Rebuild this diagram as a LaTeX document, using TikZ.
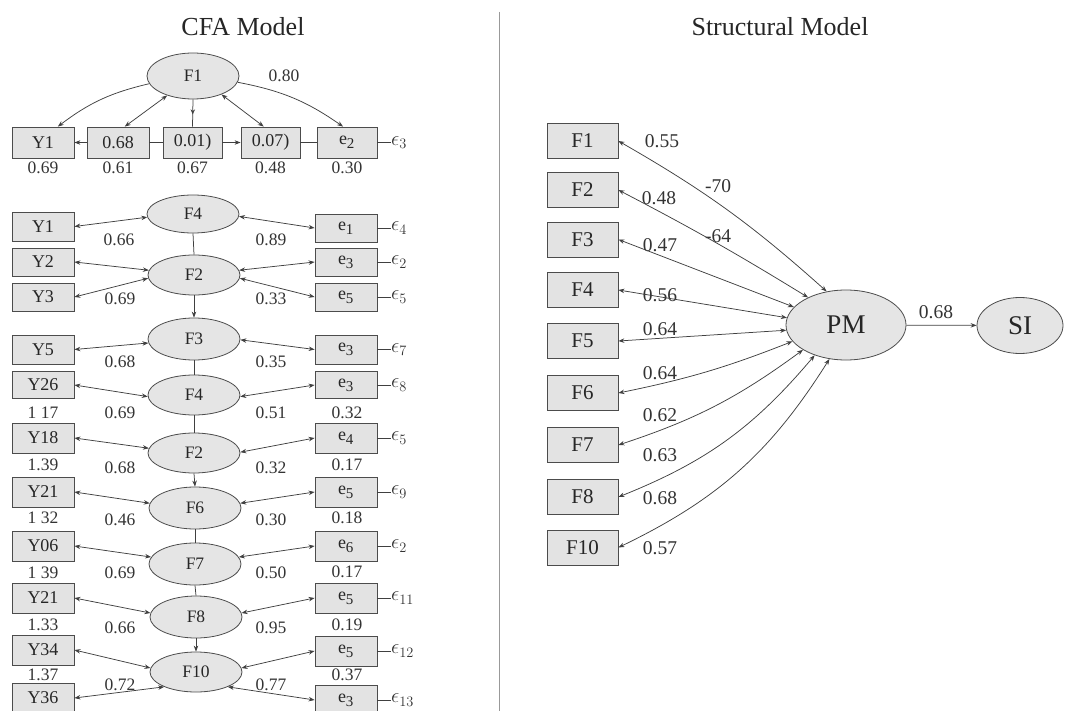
\documentclass[tikz,border=0pt]{standalone}
\usepackage{fontspec}
\setmainfont{Liberation Serif}
\usetikzlibrary{shapes.geometric,arrows.meta,decorations.markings}
\tikzset{
  obs/.style={draw=black!70, fill=black!11, line width=0.8pt, minimum width=62pt, minimum height=30pt, inner sep=0pt, text=black!85, font=\fontsize{18}{20}\selectfont},
  sobs/.style={obs, minimum width=71pt, minimum height=35pt, font=\fontsize{21}{24}\selectfont},
  lat/.style={ellipse, draw=black!70, fill=black!10, line width=0.8pt, minimum width=92pt, minimum height=40pt, inner sep=0pt, text=black!85, font=\fontsize{17.5}{20}\selectfont},
  slat/.style={lat, font=\fontsize{27}{30}\selectfont},
  lab/.style={inner sep=0pt, text=black!80, font=\fontsize{17.5}{20}\selectfont},
  slab/.style={lab, font=\fontsize{19.5}{22}\selectfont},
  ttl/.style={inner sep=0pt, text=black!85, font=\fontsize{26}{29}\selectfont},
  eps/.style={lab, anchor=west, font=\fontsize{22}{24}\selectfont},
  conn/.style={draw=black!75, line width=0.75pt},
  one/.style={conn, -{Stealth[length=6pt,width=4.5pt]}},
  dbl/.style={conn, {Stealth[length=6pt,width=4.5pt]}-{Stealth[length=6pt,width=4.5pt]}},
  midarrow/.style={conn, postaction={decorate}, decoration={markings, mark=at position 0.55 with {\arrow{Stealth[length=5pt,width=4.5pt]}}}}
}
\newcommand{\esub}[1]{e\textsubscript{\fontsize{15}{16}\selectfont #1}}
\begin{document}
\begin{tikzpicture}[x=1pt, y=-1pt]
\useasboundingbox (0,0) rectangle (1065,711);

% titles and divider
\node[ttl] (t1) at (243,27) {CFA Model};
\node[ttl] (t2) at (780,27) {Structural Model};
\draw[black!40, line width=0.7pt] (499,12) -- (499,711);

% ---------------- CFA: first block
\node[lat, minimum height=46pt] (F1) at (193,76) {F1};
\node[lab] (l080) at (284,76) {0.80};
\node[obs, minimum height=31pt] (r1a) at (43,142.5) {Y1};
\node[obs, minimum height=31pt] (r1b) at (118,142.5) {0.68};
\node[obs, minimum height=31pt, minimum width=59pt] (r1c) at (192.5,142.5) {0.01)};
\node[obs, minimum height=31pt, minimum width=59pt] (r1d) at (270.5,142.5) {0.07)};
\node[obs, minimum height=31pt, minimum width=60pt] (r1e) at (347,142.5) {\esub{2}};
\node[eps] (r1x) at (391,142.5) {$\epsilon_{3}$};
\node[lab] at (43,168) {0.69};
\node[lab] at (118,168) {0.61};
\node[lab] at (192.5,168) {0.67};
\node[lab] at (270.5,168) {0.48};
\node[lab] at (347,168) {0.30};
\draw[one] (F1.190) to[bend right=12] (r1a.47);
\draw[dbl] (F1.217) -- (r1b.67);
\draw[midarrow] (F1.south) -- (r1c.north);
\draw[dbl] (F1.327) -- (r1d.113);
\draw[one] (F1.352) to[bend left=12] (r1e.104);
\draw[one] (r1b) -- (r1a);
\draw[conn] (r1b) -- (r1c);
\draw[one] (r1c) -- (r1d);
\draw[conn] (r1d) -- (r1e);
\draw[conn] (r1e) -- (r1x);

% ---------------- CFA: second block
\node[lat, minimum height=38pt] (L1) at (193,214) {F4};
\node[obs, minimum height=29pt] (Y1b) at (43,226.5) {Y1};
\node[obs, minimum height=28pt] (E1) at (346,228) {\esub{1}};
\node[eps] (X1) at (391,228) {$\epsilon_{4}$};
\node[lab] at (119,240) {0.66};
\node[lab] at (271,240) {0.89};
\draw[dbl] (Y1b.east) -- (L1.184);
\draw[dbl] (E1.west) -- (L1.-3);
\draw[conn] (E1) -- (X1);

\node[lat] (L2) at (194,275) {F2};
\node[obs, minimum height=28pt] (Y2) at (43,262) {Y2};
\node[obs, minimum height=28pt] (Y3) at (43,297) {Y3};
\node[obs, minimum height=28pt] (E2) at (346,262) {\esub{3}};
\node[obs, minimum height=28pt] (E3) at (346,297) {\esub{5}};
\node[eps] (X2) at (391,262) {$\epsilon_{2}$};
\node[eps] (X3) at (391,297) {$\epsilon_{5}$};
\node[lab] at (120,299) {0.69};
\node[lab] at (271,299) {0.33};
\draw[conn] (L1.south) -- (L2.north);
\draw[dbl] (Y2.east) -- (L2.174);
\draw[dbl] (Y3.east) -- (L2.184);
\draw[dbl] (E2.west) -- (L2.6);
\draw[dbl] (E3.west) -- (L2.-4);
\draw[conn] (E2) -- (X2);
\draw[conn] (E3) -- (X3);

\node[lat, minimum height=42pt] (L3) at (194,339) {F3};
\node[obs, minimum height=29pt] (Y5) at (43,349.5) {Y5};
\node[obs, minimum height=29pt] (E4) at (346,349.5) {\esub{3}};
\node[eps] (X4) at (391,349.5) {$\epsilon_{7}$};
\node[lab] at (120,362) {0.68};
\node[lab] at (271,362) {0.35};
\draw[one] (L2.south) -- (L3.north);
\draw[dbl] (Y5.east) -- (L3.185);
\draw[dbl] (E4.west) -- (L3.-1);
\draw[conn] (E4) -- (X4);

\node[lat] (L4) at (194,395) {F4};
\node[obs, minimum height=27pt] (Y26) at (43,385) {Y26};
\node[obs, minimum height=27pt] (E5) at (346,385) {\esub{3}};
\node[eps] (X5) at (391,385) {$\epsilon_{8}$};
\node[lab] at (43,413) {1 17};
\node[lab] at (120,413) {0.69};
\node[lab] at (271,413) {0.51};
\node[lab] at (347,413) {0.32};
\draw[conn] (L3.south) -- (L4.north);
\draw[dbl] (Y26.east) -- (L4.182);
\draw[dbl] (E5.west) -- (L4.-2);
\draw[conn] (E5) -- (X5);

\node[lat] (L5) at (194,453) {F2};
\node[obs] (Y18) at (43,438) {Y18};
\node[obs] (E6) at (346,438) {\esub{4}};
\node[eps] (X6) at (391,438) {$\epsilon_{5}$};
\node[lab] at (43,465) {1.39};
\node[lab] at (120,468) {0.68};
\node[lab] at (271,468) {0.32};
\node[lab] at (347,465) {0.17};
\draw[conn] (L4.south) -- (L5.north);
\draw[dbl] (Y18.east) -- (L5.174);
\draw[dbl] (E6.west) -- (L5.1);
\draw[conn] (E6) -- (X6);

\node[lat, minimum height=42pt] (L6) at (195,508) {F6};
\node[obs] (Y21) at (43,492) {Y21};
\node[obs] (E7) at (346,492) {\esub{5}};
\node[eps] (X7) at (391,492) {$\epsilon_{9}$};
\node[lab] at (43,518) {1 32};
\node[lab] at (120,520) {0.46};
\node[lab] at (271,520) {0.30};
\node[lab] at (347,518) {0.18};
\draw[one] (L5.south) -- (L6.north);
\draw[dbl] (Y21.east) -- (L6.174);
\draw[dbl] (E7.west) -- (L6.6);
\draw[conn] (E7) -- (X7);

\node[lat, minimum height=42pt] (L7) at (195,564) {F7};
\node[obs] (Y06) at (43,546) {Y06};
\node[obs] (E8) at (346,546) {\esub{6}};
\node[eps] (X8) at (391,546) {$\epsilon_{2}$};
\node[lab] at (43,573) {1 39};
\node[lab] at (120,573) {0.69};
\node[lab] at (271,573) {0.50};
\node[lab] at (347,572) {0.17};
\draw[conn] (L6.south) -- (L7.north);
\draw[dbl] (Y06.east) -- (L7.171);
\draw[dbl] (E8.west) -- (L7.9);
\draw[conn] (E8) -- (X8);

\node[lat, minimum height=42pt] (L8) at (196,617) {F8};
\node[obs] (Y21b) at (43,598) {Y21};
\node[obs] (E9) at (346,598) {\esub{5}};
\node[eps] (X9) at (391,598) {$\epsilon_{11}$};
\node[lab] at (43,625) {1.33};
\node[lab] at (120,628) {0.66};
\node[lab] at (271,628) {0.95};
\node[lab] at (347,625) {0.19};
\draw[conn] (L7.south) -- (L8.north);
\draw[dbl] (Y21b.east) -- (L8.175);
\draw[dbl] (E9.west) -- (L8.5);
\draw[conn] (E9) -- (X9);

\node[lat] (L9) at (196,672) {F10};
\node[obs] (Y34) at (43,650) {Y34};
\node[obs] (E10) at (346,651) {\esub{5}};
\node[eps] (X10) at (391,651) {$\epsilon_{12}$};
\node[lab] at (43,675) {1.37};
\node[lab] at (347,675) {0.37};
\draw[one] (L8.south) -- (L9.north);
\draw[dbl] (Y34.east) -- (L9.175);
\draw[dbl] (E10.west) -- (L9.5);
\draw[conn] (E10) -- (X10);

\node[obs] (Y36) at (43,698) {Y36};
\node[obs] (E11) at (346,700) {\esub{3}};
\node[eps] (X11) at (391,700) {$\epsilon_{13}$};
\node[lab] at (120,685) {0.72};
\node[lab] at (271,685) {0.77};
\draw[dbl] (Y36.east) -- (L9.205);
\draw[dbl] (E11.west) -- (L9.-25);
\draw[conn] (E11) -- (X11);

% ---------------- Structural model
\node[slat, minimum width=120pt, minimum height=70pt] (PM) at (846,325) {PM};
\node[slat, minimum width=86pt, minimum height=56pt] (SI) at (1020,325.5) {SI};
\node[slab] at (936,312) {0.68};
\draw[one] (PM) -- (SI);

\node[sobs] (S1) at (582.5,141) {F1};
\node[sobs] (S2) at (582.5,190) {F2};
\node[sobs] (S3) at (582.5,239.5) {F3};
\node[sobs] (S4) at (582.5,290) {F4};
\node[sobs] (S5) at (582.5,341) {F5};
\node[sobs] (S6) at (582.5,393) {F6};
\node[sobs] (S7) at (582.5,445) {F7};
\node[sobs] (S8) at (582.5,497) {F8};
\node[sobs] (S10) at (582.5,547.5) {F10};

\node[slab] at (662,141) {0.55};
\node[slab] at (718,186) {-70};
\node[slab] at (659,198) {0.48};
\node[slab] at (718,236) {-64};
\node[slab] at (660,245) {0.47};
\node[slab] at (660,295) {0.56};
\node[slab] at (660,329) {0.64};
\node[slab] at (660,373) {0.64};
\node[slab] at (660,415) {0.62};
\node[slab] at (660,455) {0.63};
\node[slab] at (660,498) {0.68};
\node[slab] at (660,548) {0.57};

\draw[dbl] (S1.east) to[bend left=6] (PM.120);
\draw[dbl] (S2.east) to[bend left=2] (PM.144);
\draw[dbl] (S3.east) -- (PM.161);
\draw[dbl] (S4.east) -- (PM.173);
\draw[dbl] (S5.east) -- (PM.185);
\draw[dbl] (S6.east) to[bend right=5] (PM.197);
\draw[dbl] (S7.east) to[bend right=9] (PM.210);
\draw[dbl] (S8.east) to[bend right=14] (PM.224);
\draw[dbl] (S10.east) to[bend right=16] (PM.244);
\end{tikzpicture}
\end{document}
